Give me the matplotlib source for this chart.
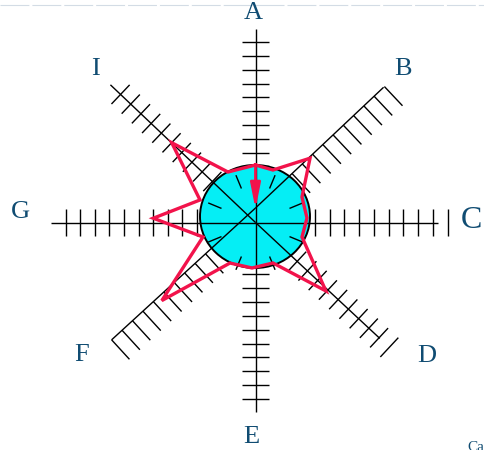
import numpy as np
import matplotlib
matplotlib.use("Agg")
import matplotlib.pyplot as plt
from matplotlib.patches import Ellipse, FancyArrowPatch

# ---------------- data ----------------
categories = ['A', 'B', 'C', 'D', 'E', 'F', 'G', 'I']
# red series (polar: angle clockwise from top in degrees, radius)
red_theta = [0, 18.4, 40.3, 61.3, 85, 107.3, 134.2, 156.6,
             184.4, 212.2, 230.2, 254.6, 272.4, 292.1, 313.6, 331.4]
red_r = [57.5, 55.3, 84.3, 53.0, 51.7, 48.7, 98.2, 44.1,
         45.6, 47.9, 122.0, 54.5, 102.3, 59.9, 115.7, 57.5]
disc_value = 53
arrow_from, arrow_to = 57.5, 13.5
inner_tick_angles = [22.5, 67.5, 112.5, 157.5, 202.5, 247.5, 292.5, 337.5]

# ---------------- layout ----------------
axis_angle = [0, 46.7, 90, 133, 180, 227.5, 270, 313.5]
axis_origin_y = [0, 14.5, 0, 0, 0, 14.5, 0, 0]
axis_len = [193.5, 176, 182, 170, 189.5, 195.2, 204.5, 200]
tick_first = [56.2, 50.2, 59.5, 57, 51.5, 67.8, 58.5, 59.5]
tick_step = [13.8, 14.1, 14.7, 14.0, 13.9, 14.15, 14.6, 14.06]
tick_n = [10, 10, 9, 9, 10, 10, 10, 10]
tick_side = ['both', 'cw', 'both', 'both', 'both', 'ccw', 'both', 'both']
extra_tick = {2: 192.2, 3: 183.0}
label_pos = {'A': (-2.5, 209.5), 'B': (147.5, 153.5), 'C': (216.0, 2.0),
             'D': (171.5, -133.5), 'E': (-4.5, -214.5), 'F': (-173.5, -132.5),
             'G': (-235.5, 10.5), 'I': (-160.5, 153.5)}

RED = '#F2134B'
CYAN = '#05EEF5'
LBL = '#104C72'
SERIF = ['Liberation Serif', 'DejaVu Serif']

fig = plt.figure(figsize=(4.84, 4.5), dpi=100)
ax = fig.add_axes([0, 0, 1, 1])
ax.set_xlim(-255.5, 228.5)
ax.set_ylim(-227.5, 222.5)
ax.axis('off')

# top dashed line
ax.plot([-255.5, 228.5], [217.5, 217.5], color='#D3DCE5', lw=0.8,
        dashes=(26, 2.7), zorder=0)

def unit(deg):
    t = np.deg2rad(deg)
    return np.sin(t), np.cos(t)

half = 13.2
for i, cat in enumerate(categories):
    ux, uy = unit(axis_angle[i])
    ox, oy = 0.0, axis_origin_y[i]
    L = axis_len[i]
    ax.plot([ox, ox + ux * L], [oy, oy + uy * L], color='black', lw=1.0,
            zorder=3, solid_capstyle='butt')
    pos = [tick_first[i] + tick_step[i] * k for k in range(tick_n[i])]
    if i in extra_tick:
        pos.append(extra_tick[i])
    side = tick_side[i]
    if side == 'cw':
        px, py = unit(axis_angle[i] + 90)
    else:
        px, py = unit(axis_angle[i] - 90)
    for p in pos:
        bx, by = ox + ux * p, oy + uy * p
        if side == 'both':
            xs = [bx - px * half, bx + px * half]
            ys = [by - py * half, by + py * half]
        else:
            xs = [bx, bx + px * 2 * half]
            ys = [by, by + py * 2 * half]
        ax.plot(xs, ys, color='black', lw=1.0, zorder=1, solid_capstyle='butt')
    lx, ly = label_pos[cat]
    ax.text(lx, ly, cat, fontsize=23 if cat == 'C' else 19, color=LBL,
            family=SERIF, ha='center', va='center')

# cyan disc
disc = Ellipse((-0.5, 6), 2 * disc_value + 4, 2 * disc_value - 3,
               facecolor=CYAN, edgecolor='black', lw=1.4, zorder=2)
ax.add_patch(disc)

# inner short radial ticks
for a in inner_tick_angles:
    ux, uy = unit(a)
    ax.plot([ux * 37.5, ux * 50.5], [uy * 37.5, uy * 50.5], color='black',
            lw=1.0, zorder=3)

# red series
th = np.deg2rad(np.array(red_theta + red_theta[:1]))
rr = np.array(red_r + red_r[:1])
ax.plot(rr * np.sin(th), rr * np.cos(th), color=RED, lw=2.4, zorder=4,
        solid_joinstyle='miter')

arr = FancyArrowPatch((0, arrow_from), (0, arrow_to),
                      arrowstyle='-|>,head_length=1.5,head_width=0.3',
                      mutation_scale=10, color=RED, lw=2.0, zorder=5,
                      shrinkA=0, shrinkB=0)
ax.add_patch(arr)

ax.text(211.5, -218.5, 'Ca', fontsize=11, color=LBL, family=SERIF,
        ha='left', va='top')

fig.savefig('out.png', dpi=100)
